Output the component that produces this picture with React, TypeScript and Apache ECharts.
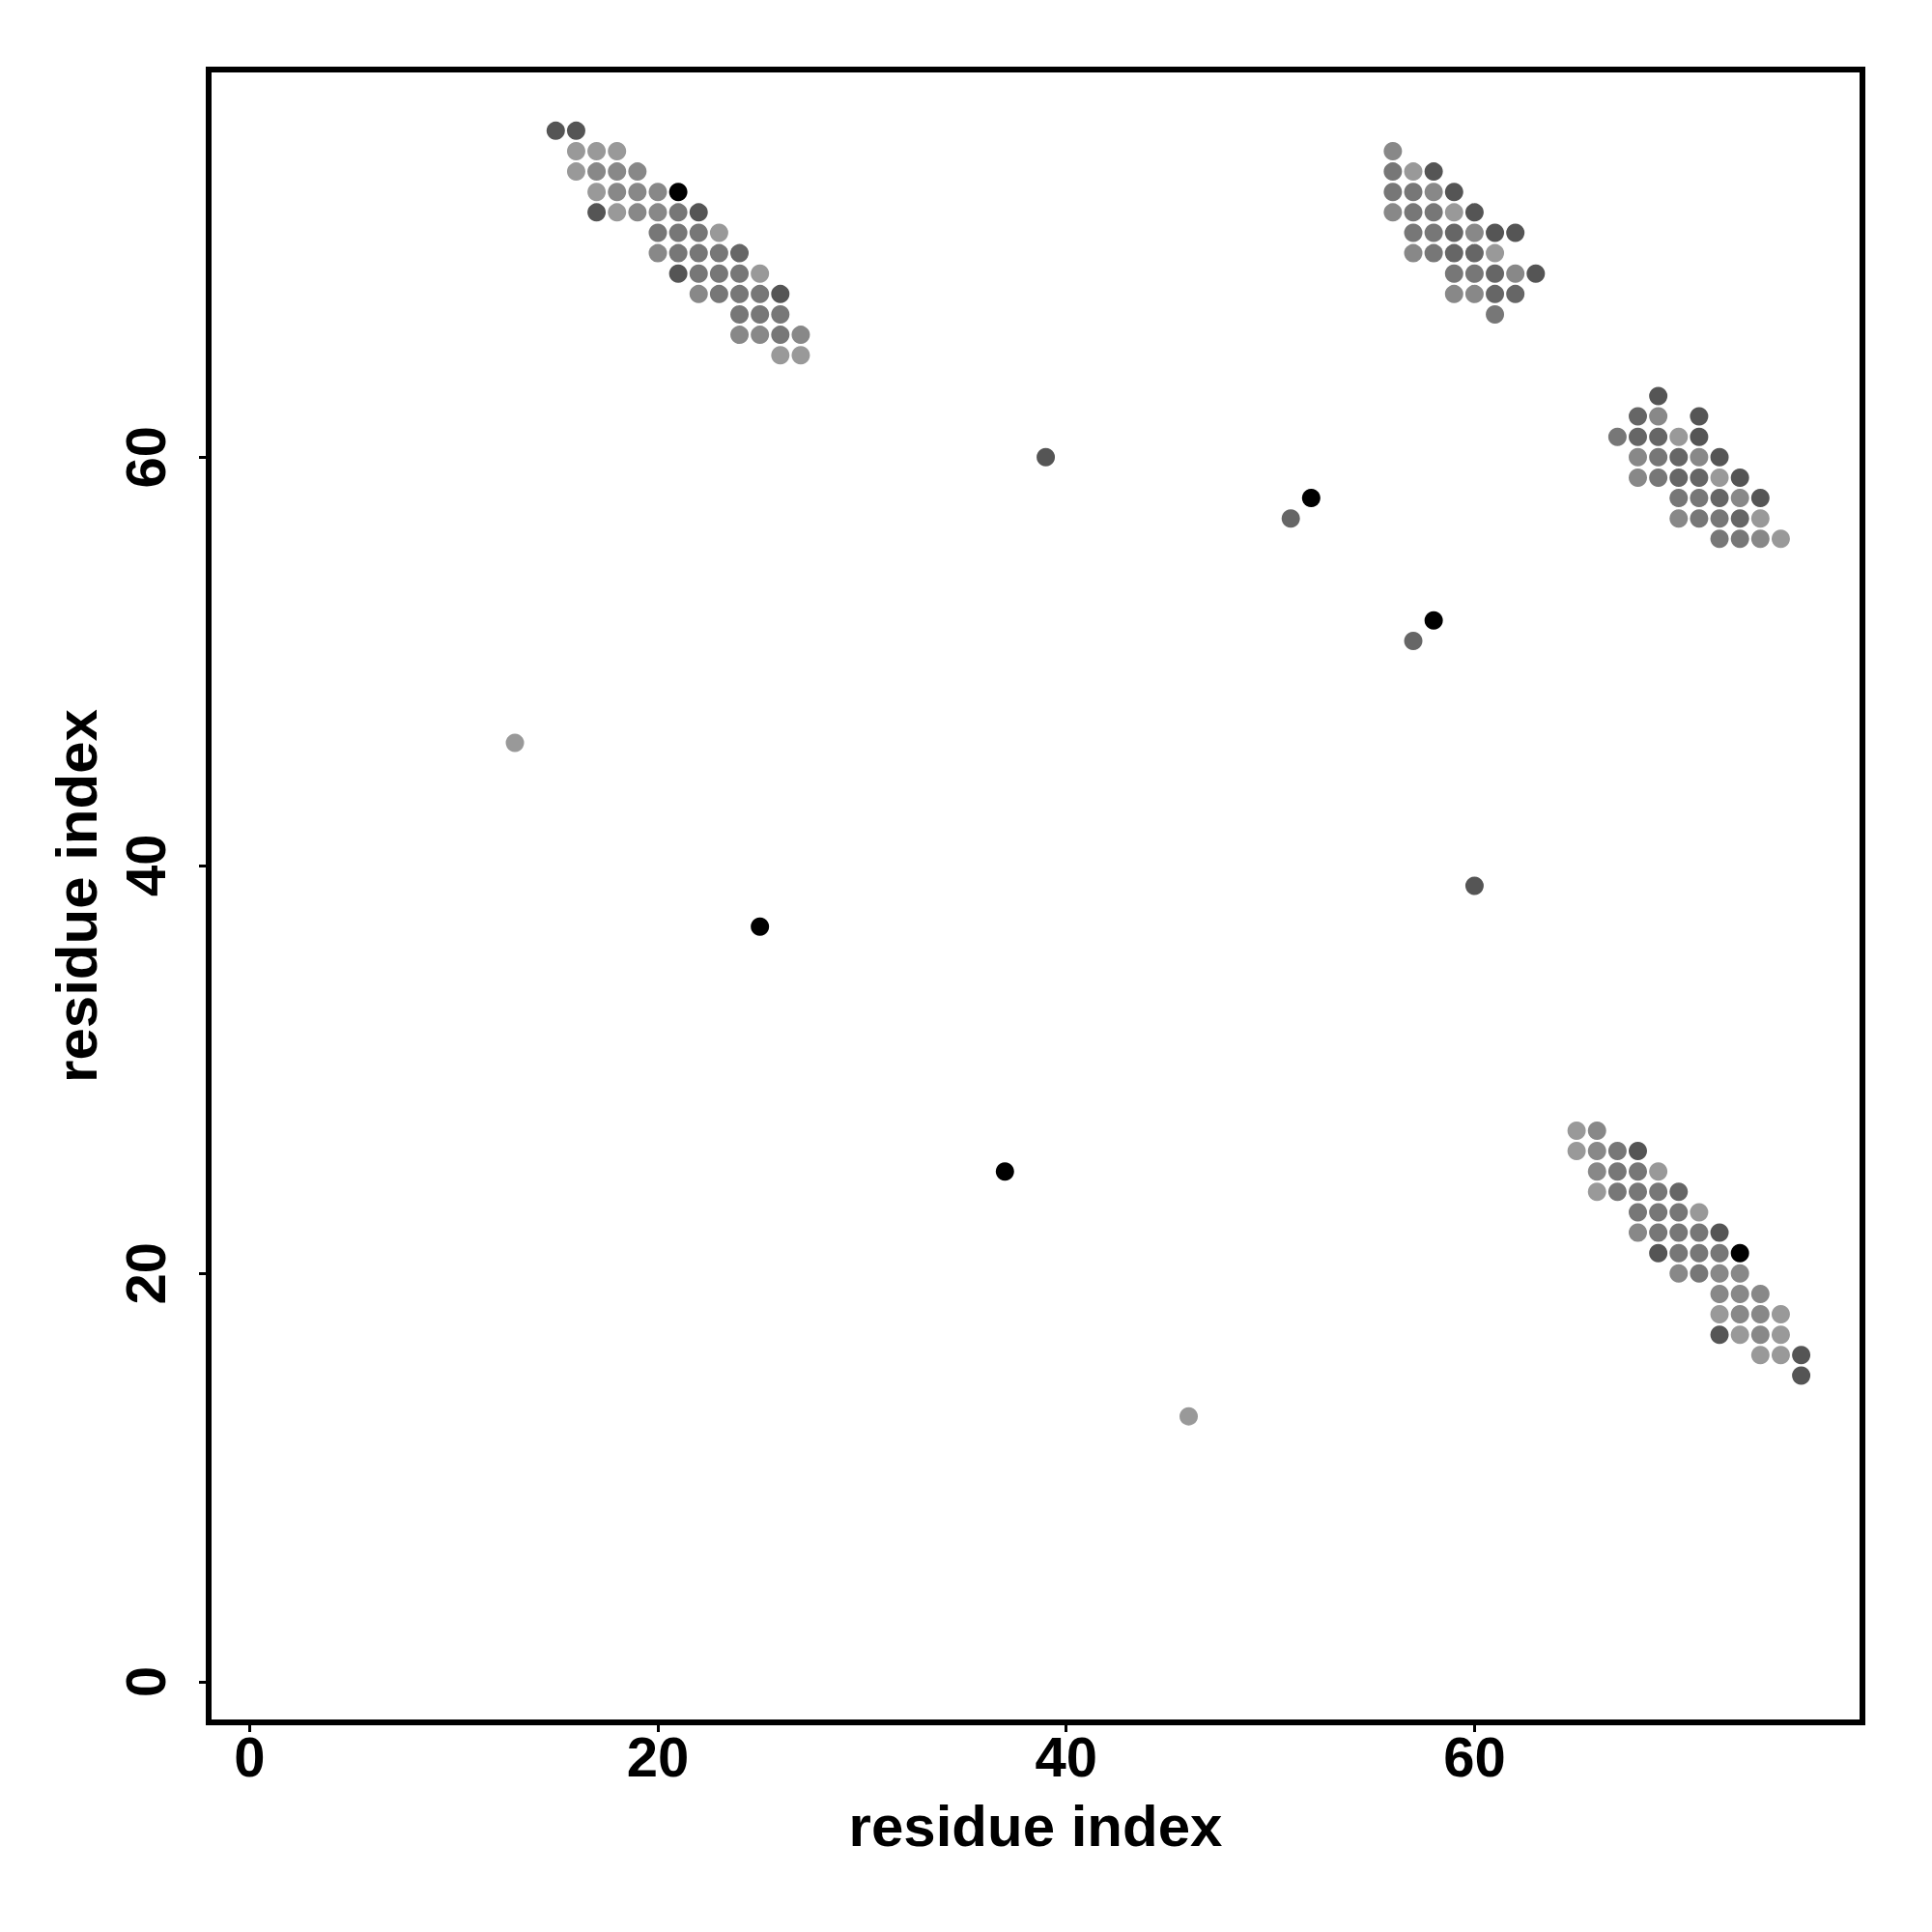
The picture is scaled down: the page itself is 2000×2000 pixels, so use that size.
import React, { useEffect, useRef } from "react";
import * as echarts from "echarts";

// grey shades, indexed by level (0 = black ... 5 = light grey)
const shades = ["#000000", "#555555", "#666666", "#777777", "#888888", "#999999"];

const tickValues = [0, 20, 40, 60];
const axisTitle = "residue index";

// [x residue, y residue, shade level]
const clusterA = [
  [15, 76, 1], [16, 76, 1],
  [16, 75, 5], [17, 75, 5], [18, 75, 5],
  [16, 74, 5], [17, 74, 4], [18, 74, 4], [19, 74, 4],
  [17, 73, 5], [18, 73, 4], [19, 73, 4], [20, 73, 4], [21, 73, 0],
  [17, 72, 1], [18, 72, 5], [19, 72, 4], [20, 72, 4], [21, 72, 3], [22, 72, 1],
  [20, 71, 3], [21, 71, 3], [22, 71, 3], [23, 71, 5],
  [20, 70, 4], [21, 70, 3], [22, 70, 3], [23, 70, 3], [24, 70, 2],
  [21, 69, 1], [22, 69, 3], [23, 69, 3], [24, 69, 3], [25, 69, 5],
  [22, 68, 4], [23, 68, 3], [24, 68, 3], [25, 68, 3], [26, 68, 1],
  [24, 67, 3], [25, 67, 3], [26, 67, 3],
  [24, 66, 4], [25, 66, 4], [26, 66, 3], [27, 66, 4],
  [26, 65, 5], [27, 65, 5],
];

const clusterB = [
  [56, 75, 4],
  [56, 74, 3], [57, 74, 5], [58, 74, 1],
  [56, 73, 3], [57, 73, 3], [58, 73, 4], [59, 73, 1],
  [56, 72, 4], [57, 72, 3], [58, 72, 3], [59, 72, 5], [60, 72, 1],
  [57, 71, 3], [58, 71, 3], [59, 71, 2], [60, 71, 4], [61, 71, 1], [62, 71, 1],
  [57, 70, 4], [58, 70, 3], [59, 70, 2], [60, 70, 2], [61, 70, 5],
  [59, 69, 3], [60, 69, 3], [61, 69, 2], [62, 69, 4], [63, 69, 1],
  [59, 68, 4], [60, 68, 4], [61, 68, 2], [62, 68, 2],
  [61, 67, 3],
];

const clusterC = [
  [69, 63, 1],
  [68, 62, 2], [69, 62, 4], [71, 62, 1],
  [67, 61, 3], [68, 61, 2], [69, 61, 2], [70, 61, 5], [71, 61, 1],
  [68, 60, 4], [69, 60, 3], [70, 60, 2], [71, 60, 4], [72, 60, 1],
  [68, 59, 4], [69, 59, 3], [70, 59, 2], [71, 59, 2], [72, 59, 5], [73, 59, 1],
  [70, 58, 3], [71, 58, 3], [72, 58, 2], [73, 58, 4], [74, 58, 1],
  [70, 57, 4], [71, 57, 3], [72, 57, 3], [73, 57, 2], [74, 57, 5],
  [72, 56, 3], [73, 56, 3], [74, 56, 4], [75, 56, 5],
];

const clusterD = [
  [65, 27, 5], [66, 27, 4],
  [65, 26, 5], [66, 26, 4], [67, 26, 3], [68, 26, 1],
  [66, 25, 4], [67, 25, 3], [68, 25, 3], [69, 25, 5],
  [66, 24, 5], [67, 24, 3], [68, 24, 3], [69, 24, 3], [70, 24, 2],
  [68, 23, 3], [69, 23, 3], [70, 23, 3], [71, 23, 5],
  [68, 22, 4], [69, 22, 3], [70, 22, 3], [71, 22, 3], [72, 22, 1],
  [69, 21, 1], [70, 21, 3], [71, 21, 3], [72, 21, 3], [73, 21, 0],
  [70, 20, 4], [71, 20, 3], [72, 20, 4], [73, 20, 4],
  [72, 19, 4], [73, 19, 4], [74, 19, 4],
  [72, 18, 5], [73, 18, 4], [74, 18, 4], [75, 18, 5],
  [72, 17, 1], [73, 17, 5], [74, 17, 4], [75, 17, 5],
  [74, 16, 5], [75, 16, 5], [76, 16, 1],
  [76, 15, 1],
];

const singles = [
  [39, 60, 1], [51, 57, 2], [52, 58, 0], [57, 51, 2], [58, 52, 0],
  [60, 39, 1], [13, 46, 5], [25, 37, 0], [37, 25, 0], [46, 13, 5],
];

const FONT = "'Liberation Sans', Arial, Helvetica, sans-serif";

export default function App() {
  const ref = useRef<HTMLDivElement>(null);

  useEffect(() => {
    document.body.style.margin = "0";
    const chart = echarts.init(ref.current!, null, { renderer: "svg" });
    const allPoints = [...clusterA, ...clusterB, ...clusterC, ...clusterD, ...singles];

    const labelStyle = {
      fontFamily: FONT,
      fontWeight: "bold" as const,
      fontSize: 58,
      lineHeight: 58,
      color: "#000",
    };

    const tickStyle = {
      show: true,
      length: 10,
      customValues: tickValues,
      lineStyle: { color: "#000", width: 3 },
    };

    chart.setOption({
      animation: false,
      backgroundColor: "#ffffff",
      grid: {
        left: 216,
        right: 72,
        top: 72,
        bottom: 217,
        show: true,
        borderColor: "#000",
        borderWidth: 6,
        backgroundColor: "transparent",
      },
      xAxis: {
        type: "value",
        min: -2,
        max: 79,
        name: axisTitle,
        nameLocation: "middle",
        nameGap: 77,
        nameTextStyle: { fontFamily: FONT, fontWeight: "bold", fontSize: 60, lineHeight: 60, color: "#000" },
        axisLine: { show: false, onZero: false },
        splitLine: { show: false },
        axisTick: tickStyle,
        axisLabel: { ...labelStyle, margin: 6, customValues: tickValues },
      },
      yAxis: {
        type: "value",
        min: -2,
        max: 79,
        name: axisTitle,
        nameLocation: "middle",
        nameGap: 107,
        nameTextStyle: { fontFamily: FONT, fontWeight: "bold", fontSize: 60, lineHeight: 60, color: "#000" },
        axisLine: { show: false, onZero: false },
        splitLine: { show: false },
        axisTick: tickStyle,
        axisLabel: { ...labelStyle, margin: 37, rotate: 90, customValues: tickValues },
      },
      series: [
        {
          type: "scatter",
          symbol: "circle",
          symbolSize: 19,
          data: allPoints,
          itemStyle: {
            color: (p: any) => shades[p.value[2]],
            opacity: 1,
          },
        },
      ],
    });

    return () => chart.dispose();
  }, []);

  return <div ref={ref} style={{ width: 2000, height: 2000 }} />;
}
